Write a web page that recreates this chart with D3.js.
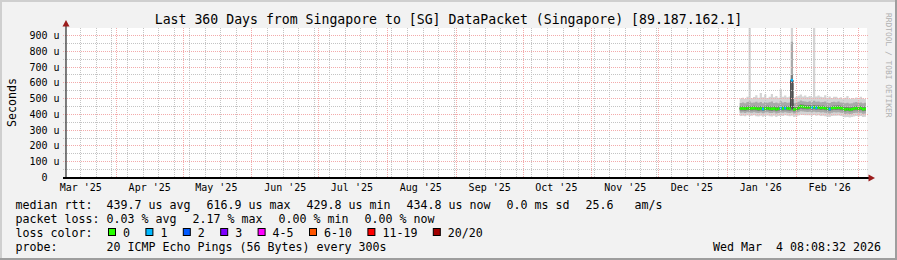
<!DOCTYPE html>
<html>
<head>
<meta charset="utf-8">
<script src="https://cdn.jsdelivr.net/npm/d3@7"></script>
<style>
body { margin: 0; background: #f2f2f2; }
svg text { font-family: "DejaVu Sans Mono", monospace; white-space: pre; }
</style>
</head>
<body>
<div class="smoke-chart"></div>
<script>
var endTime = Date.UTC(2026, 2, 4, 8, 8, 32);
var firstSample = Date.UTC(2026, 0, 6, 12);
var stepDays = 1;

var median = [437, 438, 436, 439, 437, 438, 440, 437, 435, 438,
  434, 437, 439, 436, 435, 438, 433, 436, 439, 437,
  440, 438, 436, 617, 432, 434, 441, 451, 448, 446,
  444, 445, 443, 446, 442, 444, 441, 443, 439, 436,
  434, 440, 442, 441, 443, 440, 437, 432, 434, 431,
  433, 437, 439, 436, 440, 433, 435];

var loss = [0, 0, 0, 0, 0, 0, 0, 0, 0, 0,
  1, 0, 0, 0, 0, 0, 0, 0, 1, 0,
  1, 0, 0, 1, 0, 0, 0, 0, 0, 0,
  0, 0, 1, 0, 1, 0, 0, 0, 0, 0,
  1, 0, 0, 0, 0, 0, 0, 0, 0, 0,
  0, 0, 0, 0, 0, 0, 0];

var smokeMax = [500, 506, 498, 512, 947, 503, 510, 522, 505, 535,
  508, 526, 504, 512, 530, 508, 516, 506, 560, 512,
  520, 508, 514, 947, 505, 512, 518, 526, 514, 520,
  510, 516, 508, 947, 514, 520, 512, 508, 522, 506,
  514, 504, 511, 512, 503, 508, 500, 506, 516, 498,
  504, 500, 507, 496, 512, 502, 498];

var smokeHi2 = [472, 475, 470, 478, 482, 474, 476, 480, 473, 478,
  471, 479, 474, 477, 481, 472, 476, 470, 484, 475,
  478, 473, 476, 860, 470, 474, 480, 488, 484, 482,
  479, 483, 478, 486, 480, 482, 477, 479, 481, 474,
  472, 478, 480, 477, 481, 476, 474, 470, 473, 469,
  471, 475, 478, 472, 476, 470, 473];

var smokeHi1 = [452, 453, 450, 454, 452, 453, 455, 452, 450, 453,
  449, 452, 454, 451, 450, 453, 448, 451, 455, 452,
  455, 453, 451, 650, 447, 449, 456, 465, 462, 460,
  458, 459, 457, 460, 456, 458, 455, 457, 453, 450,
  449, 455, 457, 456, 458, 455, 452, 447, 449, 446,
  448, 452, 454, 451, 455, 448, 450];

var smokeLo1 = [424, 425, 423, 426, 424, 425, 427, 424, 422, 425,
  421, 424, 426, 423, 422, 425, 420, 423, 426, 424,
  427, 425, 423, 425, 419, 421, 428, 436, 433, 432,
  431, 432, 430, 433, 429, 431, 428, 430, 426, 423,
  421, 427, 429, 428, 430, 427, 424, 419, 421, 418,
  420, 424, 426, 423, 427, 420, 422];

var smokeLo2 = [410, 412, 409, 413, 410, 411, 414, 410, 408, 412,
  407, 410, 413, 409, 408, 412, 406, 409, 412, 410,
  413, 411, 409, 412, 405, 407, 414, 420, 418, 417,
  415, 416, 414, 417, 413, 415, 412, 414, 410, 407,
  405, 411, 413, 412, 414, 411, 408, 403, 405, 402,
  404, 408, 410, 407, 411, 404, 406];

var smokeMin = [390, 392, 388, 394, 389, 391, 395, 388, 386, 392,
  385, 390, 393, 388, 387, 392, 384, 389, 391, 390,
  394, 391, 388, 392, 384, 386, 393, 398, 396, 395,
  394, 395, 392, 396, 391, 394, 390, 392, 388, 385,
  384, 390, 392, 391, 393, 389, 386, 382, 384, 381,
  383, 387, 389, 386, 390, 383, 385];

var lossLabels = ["0", "1", "2", "3", "4-5", "6-10", "11-19", "20/20"];
var lossColors = ["#26ff00", "#00b8ff", "#0059ff", "#7e00ff", "#ff00ff", "#ff5500", "#ff0000", "#a10000"];

var titleText = "Last 360 Days from Singapore to [SG] DataPacket (Singapore) [89.187.162.1]";
var rttStats = ["439.7 us avg", "616.9 us max", "429.8 us min", "434.8 us now", "0.0 ms sd", "25.6   am/s"];
var lossStats = ["0.03 % avg", "2.17 % max", "0.00 % min", "0.00 % now"];
var probeText = "20 ICMP Echo Pings (56 Bytes) every 300s";
var stampText = "Wed Mar  4 08:08:32 2026";
var yMax = 947.5;

var width = 897, height = 260;
var plot = {left: 66, top: 28, width: 800, height: 150};
var charW = 7.0, itemGap = 16, valueX = 106.5;

var svg = d3.select(".smoke-chart").append("svg")
  .attr("width", width).attr("height", height);

svg.append("rect").attr("width", width).attr("height", height).attr("fill", "#f2f2f2");
// 3d frame like rrdtool
svg.append("path").attr("d", "M0,1H896M1,0V259").attr("stroke", "#cfcfcf").attr("stroke-width", 2);
svg.append("path").attr("d", "M0,259H897M896,0V260").attr("stroke", "#9e9e9e").attr("stroke-width", 2);

svg.append("rect").attr("x", plot.left).attr("y", plot.top)
  .attr("width", plot.width + 1).attr("height", plot.height).attr("fill", "#ffffff");

var x = d3.scaleUtc()
  .domain([endTime - 360 * 864e5, endTime])
  .range([plot.left, plot.left + plot.width]);
var y = d3.scaleLinear().domain([0, yMax]).range([177.5, plot.top]);

var times = median.map(function(d, i) { return firstSample + i * stepDays * 864e5; });
var tail = firstSample + median.length * stepDays * 864e5;

svg.append("clipPath").attr("id", "plotclip").append("rect")
  .attr("x", plot.left).attr("y", plot.top).attr("width", plot.width).attr("height", plot.height);

var g = svg.append("g").attr("clip-path", "url(#plotclip)");

function band(lo, hi, color) {
  var pts = lo.map(function(d, i) { return {t: times[i], lo: d, hi: hi[i]}; });
  pts.push({t: tail, lo: lo[lo.length - 1], hi: hi[hi.length - 1]});
  g.append("path").datum(pts)
    .attr("fill", color)
    .attr("d", d3.area().curve(d3.curveStepAfter)
      .x(function(d) { return x(d.t); })
      .y0(function(d) { return y(d.lo); })
      .y1(function(d) { return y(d.hi); }));
}
band(smokeMin, smokeMax, "#d4d4d4");
band(smokeLo2, smokeHi2, "#a9a9a9");
band(smokeLo1, smokeHi1, "#7c7c7c");

// grid
var gridG = svg.append("g").attr("fill", "none").attr("stroke-dasharray", "1,1");
var yMinor = d3.range(50, yMax, 100);
var yMajor = y.ticks(10).filter(function(v) { return v > 0; });
gridG.selectAll(".hminor").data(yMinor).enter().append("line")
  .attr("x1", 63).attr("x2", 869)
  .attr("y1", function(v) { return Math.floor(y(v)) + 0.5; })
  .attr("y2", function(v) { return Math.floor(y(v)) + 0.5; })
  .attr("stroke", "#c4c4c4");
gridG.selectAll(".vminor").data(d3.utcSunday.range(x.domain()[0], x.domain()[1])).enter().append("line")
  .attr("x1", function(d) { return Math.floor(x(d)) + 0.5; })
  .attr("x2", function(d) { return Math.floor(x(d)) + 0.5; })
  .attr("y1", plot.top).attr("y2", 180)
  .attr("stroke", "#c4c4c4");
gridG.selectAll(".hmajor").data(yMajor).enter().append("line")
  .attr("x1", 63).attr("x2", 869)
  .attr("y1", function(v) { return Math.floor(y(v)) + 0.5; })
  .attr("y2", function(v) { return Math.floor(y(v)) + 0.5; })
  .attr("stroke", "#f3abab");
gridG.selectAll(".vmajor").data(d3.utcMonth.range(x.domain()[0], x.domain()[1])).enter().append("line")
  .attr("x1", function(d) { return Math.floor(x(d)) + 0.5; })
  .attr("x2", function(d) { return Math.floor(x(d)) + 0.5; })
  .attr("y1", plot.top).attr("y2", 180)
  .attr("stroke", "#f3abab");

// median line + loss colour
var medPts = median.map(function(d, i) { return {t: times[i], v: d}; });
medPts.push({t: tail, v: median[median.length - 1]});
g.append("path").datum(medPts)
  .attr("fill", "none").attr("stroke", "#202020").attr("stroke-width", 1)
  .attr("d", d3.line().curve(d3.curveStepAfter)
    .x(function(d) { return x(d.t); })
    .y(function(d) { return y(d.v); }));

function lossIndex(l) {
  if (l <= 3) return l;
  if (l <= 5) return 4;
  if (l <= 10) return 5;
  if (l <= 19) return 6;
  return 7;
}
g.selectAll(".med").data(median).enter().append("rect")
  .attr("x", function(d, i) { return x(times[i]); })
  .attr("width", function(d, i) { return x(times[i] + stepDays * 864e5) - x(times[i]); })
  .attr("y", function(d) { return y(d) - 1.3; })
  .attr("height", 2.6)
  .attr("fill", function(d, i) { return lossColors[lossIndex(loss[i])]; });

// axes
svg.append("line").attr("x1", 63).attr("x2", 869).attr("y1", 178).attr("y2", 178)
  .attr("stroke", "#000").attr("stroke-width", 2);
svg.append("line").attr("x1", 66).attr("x2", 66).attr("y1", 25).attr("y2", 178)
  .attr("stroke", "#000").attr("stroke-width", 1);
svg.append("path").attr("d", "M66,20L62.5,26.5L69.5,26.5Z").attr("fill", "#9b1c1c");
svg.append("path").attr("d", "M875,178L868.5,174.5L868.5,181.5Z").attr("fill", "#9b1c1c");

svg.selectAll(".ylab").data(y.ticks(10)).enter().append("text")
  .attr("x", 59.5).attr("y", function(v) { return Math.floor(y(v)) + 0.5 + 3.6; })
  .attr("text-anchor", "end").attr("font-size", "10px").attr("fill", "#000")
  .text(function(v) { return v === 0 ? "0  " : v + " u"; });

var fmtMonth = d3.utcFormat("%b '%y");
var labelMonths = d3.utcMonth.range(d3.utcMonth.floor(x.domain()[0]), x.domain()[1])
  .map(function(d) { return d3.utcDay.offset(d, 15); })
  .filter(function(d) { return d < x.domain()[1]; });
svg.selectAll(".xlab").data(labelMonths).enter().append("text")
  .attr("x", function(d) { return x(d); }).attr("y", 191)
  .attr("text-anchor", "middle").attr("font-size", "10px").attr("fill", "#000")
  .text(function(d) { return fmtMonth(d3.utcDay.offset(d, -15)); });

svg.append("text").attr("x", 448.5).attr("y", 23.5).attr("text-anchor", "middle")
  .attr("font-size", "13.2px").attr("fill", "#000").text(titleText);

svg.append("text").attr("transform", "translate(15.5,102.5) rotate(-90)")
  .attr("text-anchor", "middle").attr("font-size", "11.6px").attr("fill", "#000").text("Seconds");

svg.append("text").attr("transform", "translate(885.5,13) rotate(90)")
  .attr("font-size", "7.9px").attr("fill", "#b0b0b0").text("RRDTOOL / TOBI OETIKER");

// legend, one item at a time like rrdtool
var legend = svg.append("g").attr("font-size", "11.63px").attr("fill", "#000");
function legendRow(label, items, yy) {
  legend.append("text").attr("x", 15.4).attr("y", yy).text(label);
  var cx = valueX;
  items.forEach(function(s) {
    legend.append("text").attr("x", cx).attr("y", yy).text(s);
    cx = cx + s.length * charW + itemGap;
  });
}
legendRow("median rtt:", rttStats, 208.5);
legendRow("packet loss:", lossStats, 222.5);
legendRow("loss color:", [], 236.5);
legendRow("probe:", [probeText], 250.5);
legend.append("text").attr("x", 881).attr("y", 250.5).attr("text-anchor", "end").text(stampText);

var cursor = 108;
lossLabels.forEach(function(lbl, i) {
  legend.append("rect").attr("x", cursor + 0.5).attr("y", 228.5).attr("width", 7).attr("height", 7)
    .attr("fill", lossColors[i]).attr("stroke", "#000").attr("stroke-width", 1);
  legend.append("text").attr("x", cursor + 15).attr("y", 236.5).text(lbl);
  cursor = cursor + 15 + lbl.length * charW + 15.4;
});
</script>
</body>
</html>
